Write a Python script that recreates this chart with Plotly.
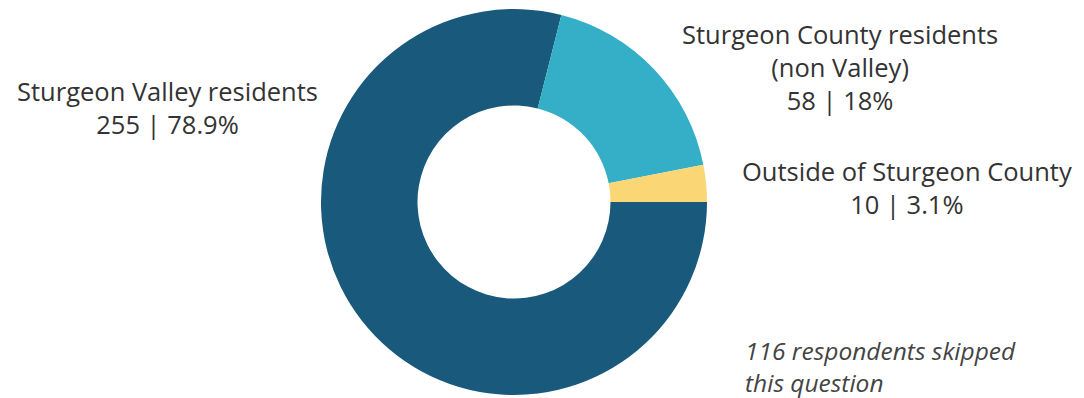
import plotly.graph_objects as go

labels = ["Sturgeon Valley residents", "Sturgeon County residents (non Valley)", "Outside of Sturgeon County"]
label_lines = [["Sturgeon Valley residents"], ["Sturgeon County residents", "(non Valley)"], ["Outside of Sturgeon County"]]
counts = [255, 58, 10]
percents = ["78.9%", "18%", "3.1%"]
colors = ["#19597c", "#35aec8", "#fbd675"]
note_lines = ["116 respondents skipped", "this question"]

W, H = 1084, 398
OFF = 8  # page body margin offset
cx, cy, r = 514 - OFF, 202 - OFF, 193

fig = go.Figure(go.Pie(
    labels=labels, values=counts, hole=0.5, sort=False, direction="clockwise",
    rotation=90, marker=dict(colors=colors, line=dict(width=0)),
    textinfo="none", hoverinfo="label+value+percent", showlegend=False,
    domain=dict(x=[(cx - r) / W, (cx + r) / W], y=[(H - cy - r) / H, (H - cy + r) / H]),
))

font = dict(family="Open Sans", size=25.5, color="#333333")
label_pos = [(167, 107), (840, 67), (907, 187)]
for lines, n, p, (x, y) in zip(label_lines, counts, percents, label_pos):
    fig.add_annotation(
        text="<br>".join(lines + [f"{n} | {p}"]), x=(x - OFF) / W, y=1 - (y - OFF) / H,
        xref="paper", yref="paper", showarrow=False, xanchor="center", yanchor="middle",
        align="center", font=font,
    )

fig.add_annotation(
    text="<i>" + "<br>".join(note_lines) + "</i>", x=(743 - OFF) / W, y=1 - (366 - OFF) / H,
    xref="paper", yref="paper", showarrow=False, xanchor="left", yanchor="middle", align="left",
    font=dict(family="Open Sans", size=24.5, color="#444444"),
)

fig.update_layout(width=W, height=H, margin=dict(l=0, r=0, t=0, b=0),
                  paper_bgcolor="white", plot_bgcolor="white")
fig.write_html("out.html")
